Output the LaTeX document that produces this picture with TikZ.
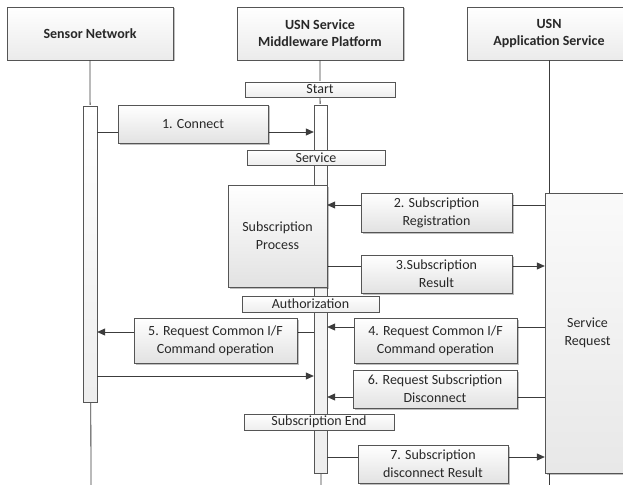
\documentclass[tikz,border=0pt]{standalone}
\usepackage{fontspec}
\setmainfont{Carlito}
\usetikzlibrary{arrows.meta, positioning, shadows}
\definecolor{linegray}{RGB}{60,60,60}
\definecolor{boxdraw}{RGB}{85,85,85}
\definecolor{boxshade}{RGB}{226,226,226}
\definecolor{textgray}{RGB}{40,40,40}
\tikzset{
  actor/.style={rectangle, draw=boxdraw, top color=white, bottom color=boxshade!70, minimum width=#1, minimum height=53pt, inner sep=0pt, align=center, font=\fontsize{14}{17}\selectfont\bfseries, text=textgray, drop shadow={shadow xshift=1.5pt, shadow yshift=-1.5pt, fill=black, opacity=0.25}},
  actor/.default=166pt,
  msg/.style={rectangle, draw=boxdraw, top color=white, bottom color=boxshade, minimum width=#1, minimum height=38pt, inner sep=0pt, align=center, text=textgray, drop shadow={shadow xshift=1.5pt, shadow yshift=-1.5pt, fill=black, opacity=0.25}},
  msg/.default=151pt,
  phase/.style={rectangle, draw=boxdraw, top color=white, bottom color=boxshade!60, minimum width=#1, minimum height=15pt, inner sep=0pt, text=textgray, drop shadow={shadow xshift=1pt, shadow yshift=-1pt, fill=black, opacity=0.2}},
  phase/.default=150pt,
  bar/.style={rectangle, draw=boxdraw, top color=white, bottom color=boxshade!60, minimum width=14pt, inner sep=0pt},
  life/.style={draw=linegray, line width=0.8pt},
  arr/.style={-{Triangle[length=8pt, width=7pt]}, draw=linegray, line width=0.8pt},
}

\begin{document}
\begin{tikzpicture}[x=1pt, y=-1pt, font=\fontsize{14}{18}\selectfont]
  \fill[white] (0,0) rectangle (623,484);
  \useasboundingbox (0,0) rectangle (623,484);
  \clip (0,0) rectangle (623,484);

  % participants
  \node[actor] (sensor) at (90,33.5) {Sensor Network};
  \node[actor] (mw) at (320,33.5) {USN Service\\Middleware Platform};
  \node[actor=164pt] (app) at (549,33.5) {USN\\Application Service};
  \coordinate (sensorEnd) at (91,490);
  \coordinate (mwEnd) at (321,490);
  \coordinate (appEnd) at (549,490);

  % lifelines
  \draw[life] (sensor.south) -- (sensorEnd);
  \draw[life] (mw.south) -- (mwEnd);
  \draw[life] (app.south) -- (appEnd);

  % activation bars
  \node[bar, minimum height=296pt] (sbar) at (90,254) {};
  \node[bar, minimum width=13pt, minimum height=368pt] (mbar) at (320.5,289) {};
  \node[msg=85pt, minimum height=280pt, top color=white!98!black, bottom color=boxshade!80] (req) at (587.5,333) {Service\\Request};

  % messages
  \draw[arr] (sbar.east |- 0,132) -- (mbar.west |- 0,132);
  \draw[arr] (req.west |- 0,205) -- (mbar.east |- 0,205);
  \draw[arr] (mbar.east |- 0,266) -- (req.west |- 0,266);
  \draw[arr] (req.west |- 0,327) -- (mbar.east |- 0,327);
  \draw[arr] (mbar.west |- 0,332) -- (sbar.east |- 0,332);
  \draw[arr] (sbar.east |- 0,376) -- (mbar.west |- 0,376);
  \draw[arr] (req.west |- 0,397) -- (mbar.east |- 0,397);
  \draw[arr] (mbar.east |- 0,457) -- (req.west |- 0,457);

  \node[msg=150pt] (connect) at (193,124) {1. Connect};
  \node[msg, minimum height=39pt] (reg) at (436.5,212.5) {2. Subscription\\Registration};
  \node[msg] (result) at (436.5,274) {3.Subscription\\Result};
  \node[msg=163pt, minimum height=45pt] (cmdIn) at (435.5,340.5) {4. Request Common I/F\\Command operation};
  \node[msg=163pt, minimum height=45pt] (cmdOut) at (215.5,340.5) {5. Request Common I/F\\Command operation};
  \node[msg=164pt] (disc) at (435,389) {6. Request Subscription\\Disconnect};
  \node[msg=150pt] (discRes) at (433,464) {7. Subscription\\disconnect Result};

  % phases on the middleware
  \node[phase] (start) at (320,89.5) {Start};
  \node[phase=138pt] (service) at (316,157.5) {Service};
  \node[msg=99pt, minimum height=102pt] (proc) at (277.5,236) {Subscription\\Process};
  \node[phase=137pt, minimum height=16pt] (auth) at (310.5,304) {Authorization};
  \node[phase, minimum height=16pt] (subEnd) at (319,422) {Subscription End};
\end{tikzpicture}
\end{document}
